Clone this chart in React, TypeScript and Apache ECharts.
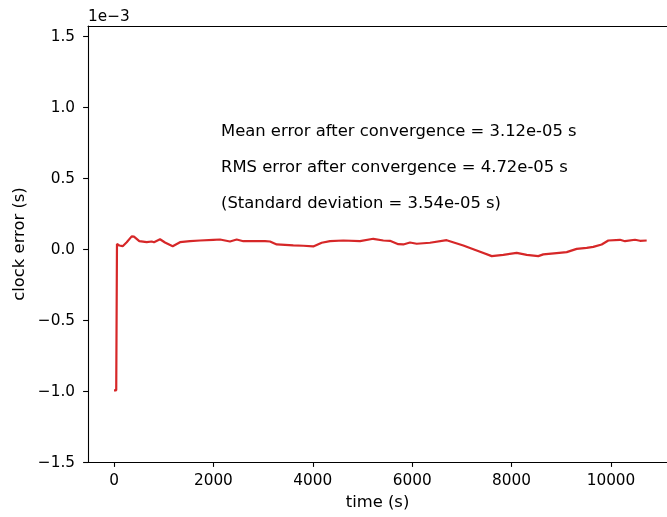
import React, { useEffect, useRef } from "react";
import * as echarts from "echarts";

// time (s)
const times = [
  0, 45, 60, 107, 175, 256, 356, 402, 509, 658, 759, 805, 926, 1026, 1181, 1328, 1529, 1730, 1998,
  2133, 2334, 2469, 2602, 3038, 3139, 3274, 3608, 3809, 4010, 4179, 4346, 4614, 4950, 5217, 5419,
  5553, 5720, 5821, 5956, 6091, 6358, 6694, 7028, 7298, 7600, 7833, 8103, 8304, 8537, 8638, 8907,
  9109, 9310, 9511, 9644, 9813, 9946, 10181, 10282, 10483, 10584, 10718,
];
// clock error (units of 1e-3 s)
const clockError = [
  -0.995, -0.995, 0.036, 0.026, 0.021, 0.049, 0.09, 0.088, 0.056, 0.049, 0.054, 0.049, 0.07, 0.047,
  0.021, 0.049, 0.056, 0.061, 0.066, 0.068, 0.054, 0.068, 0.056, 0.056, 0.054, 0.033, 0.026, 0.024,
  0.019, 0.045, 0.056, 0.061, 0.056, 0.073, 0.061, 0.059, 0.035, 0.033, 0.047, 0.038, 0.045, 0.063,
  0.026, -0.009, -0.049, -0.04, -0.026, -0.04, -0.049, -0.037, -0.028, -0.021, 0.002, 0.009, 0.016,
  0.033, 0.061, 0.066, 0.056, 0.066, 0.059, 0.061,
];
const xTicks = [0, 2000, 4000, 6000, 8000, 10000];
const yTicks = [-1.5, -1.0, -0.5, 0.0, 0.5, 1.0, 1.5];
const annotations = [
  "Mean error after convergence = 3.12e-05 s",
  "RMS error after convergence = 4.72e-05 s",
  "(Standard deviation = 3.54e-05 s)",
];
const offsetText = "1e\u22123";

const FONT = "DejaVu Sans";
const TICK_FS = 15.3;
const LABEL_FS = 16.4;

export default function App() {
  const ref = useRef<HTMLDivElement>(null);
  useEffect(() => {
    if (!ref.current) return;
    const chart = echarts.init(ref.current, null, { renderer: "svg" });
    const axisLine = { show: true, onZero: false, lineStyle: { color: "#000", width: 1.1 } };
    const fmtY = (v: number) => v.toFixed(1).replace("-", "\u2212");
    chart.setOption({
      animation: false,
      grid: { left: 88, right: 0, top: 26, bottom: 55, containLabel: false },
      xAxis: [
        {
          type: "value",
          min: -523,
          max: 11127,
          position: "bottom",
          splitLine: { show: false },
          axisLine,
          axisTick: { show: true, length: 4.9, inside: false, lineStyle: { color: "#000", width: 1.1 }, customValues: xTicks },
          axisLabel: { color: "#000", fontFamily: FONT, fontSize: TICK_FS, margin: 10, customValues: xTicks, formatter: (v: number) => String(v) },
          name: "time (s)",
          nameLocation: "middle",
          nameGap: 31,
          nameTextStyle: { color: "#000", fontFamily: FONT, fontSize: LABEL_FS },
        },
        {
          type: "value",
          min: -523,
          max: 11127,
          position: "top",
          splitLine: { show: false },
          axisLine,
          axisTick: { show: false },
          axisLabel: { show: false },
        },
      ],
      yAxis: {
        type: "value",
        min: -1.5,
        max: 1.5726,
        position: "left",
        splitLine: { show: false },
        axisLine,
        axisTick: { show: true, length: 4.9, lineStyle: { color: "#000", width: 1.1 }, customValues: yTicks },
        axisLabel: { color: "#000", fontFamily: FONT, fontSize: TICK_FS, margin: 13, customValues: yTicks, formatter: fmtY },
        name: "clock error (s)",
        nameLocation: "middle",
        nameGap: 55,
        nameTextStyle: { color: "#000", fontFamily: FONT, fontSize: LABEL_FS },
      },
      series: [
        {
          type: "line",
          xAxisIndex: 0,
          data: times.map((t, i) => [t, clockError[i]]),
          showSymbol: false,
          symbol: "none",
          lineStyle: { color: "#d62728", width: 2.2 },
          itemStyle: { color: "#d62728" },
        },
      ],
      graphic: [
        {
          type: "text",
          left: 88,
          top: 8,
          style: { text: offsetText, fontFamily: FONT, fontSize: TICK_FS, fill: "#000" },
        },
        ...annotations.map((a, i) => ({
          type: "text",
          x: 221,
          y: 130 + i * 36,
          style: { text: a, fontFamily: FONT, fontSize: LABEL_FS, fill: "#000", verticalAlign: "middle", align: "left" },
        })),
      ],
    });
    return () => chart.dispose();
  }, []);
  return <div ref={ref} style={{ position: "fixed", left: 0, top: 0, width: 667, height: 517 }} />;
}
